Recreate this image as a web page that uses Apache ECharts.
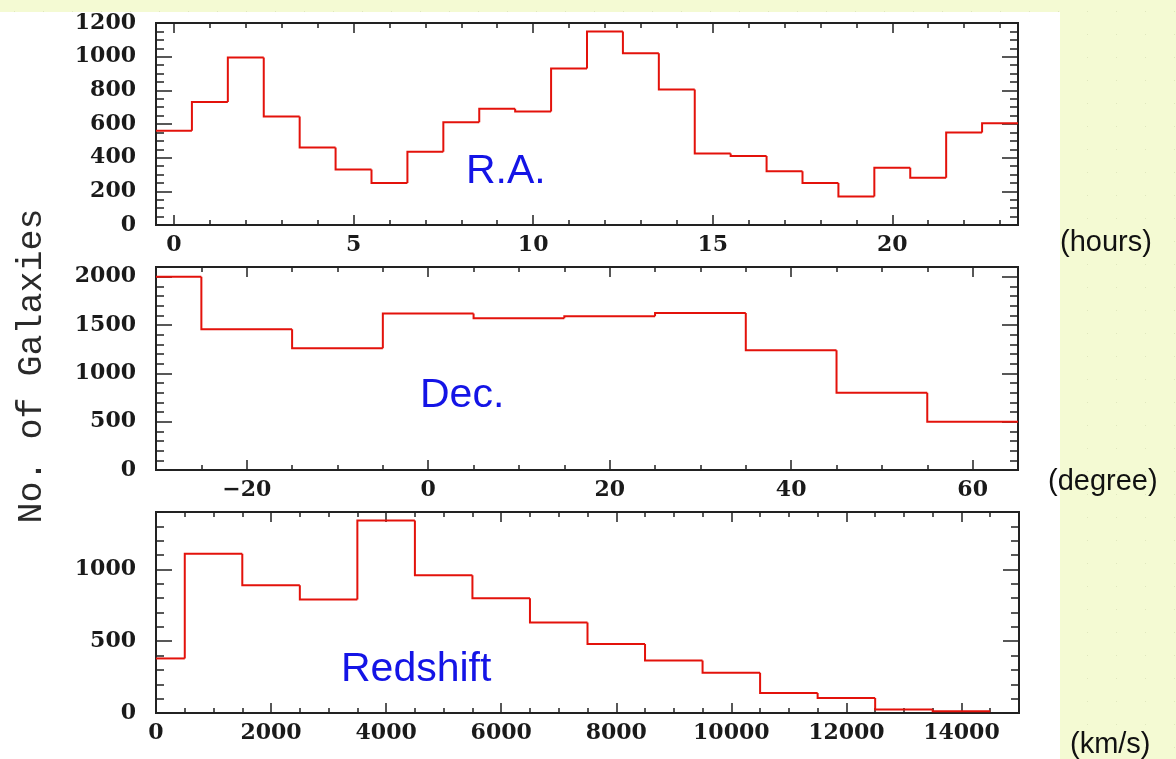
<!DOCTYPE html>
<html><head><meta charset="utf-8">
<script src="https://cdn.jsdelivr.net/npm/echarts@6/dist/echarts.min.js"></script>
<style>
html,body{margin:0;padding:0;}
body{background-color:#f4fad3;background-image:radial-gradient(circle, #dfe6bd 0.7px, rgba(0,0,0,0) 1px);background-size:29px 23px;}
#c{width:1176px;height:759px;}
</style>
</head><body><div id="c"></div>
<script>
// ---- Data ----
const raEdges  = [-0.5,0.5,1.5,2.5,3.5,4.5,5.5,6.5,7.5,8.5,9.5,10.5,11.5,12.5,13.5,14.5,15.5,16.5,17.5,18.5,19.5,20.5,21.5,22.5,23.5];
const raCounts = [560,730,995,645,460,330,250,435,610,690,675,930,1150,1020,805,425,410,320,250,170,340,280,550,605];
const decEdges  = [-30,-25,-15,-5,5,15,25,35,45,55,65];
const decCounts = [2000,1455,1260,1620,1570,1590,1625,1240,800,500];
const zEdges  = [0,500,1500,2500,3500,4500,5500,6500,7500,8500,9500,10500,11500,12500,13500,14500];
const zCounts = [380,1110,890,790,1340,960,800,630,480,365,280,140,105,25,12];

const raXTicks  = [0,5,10,15,20];
const raYTicks  = [0,200,400,600,800,1000,1200];
const decXTicks = [-20,0,20,40,60];
const decYTicks = [0,500,1000,1500,2000];
const zXTicks   = [0,2000,4000,6000,8000,10000,12000,14000];
const zYTicks   = [0,500,1000];

const panelNames = ['R.A.','Dec.','Redshift'];
const unitNames  = ['(hours)','(degree)','(km/s)'];
const yTitle = 'No. of Galaxies';

// ---- helpers ----
function steps(from, to, step){ const a=[]; for(let v=from; v<=to+1e-9; v+=step) a.push(+v.toFixed(6)); return a; }
// one item per bin: [left edge, right edge, count, previous count]
function binItems(edges, counts){
  return counts.map((c,i)=>[edges[i], edges[i+1], c, i>0 ? counts[i-1] : c]);
}
const labelFont = {fontFamily:'DejaVu Serif', fontSize:22, fontWeight:'bold', color:'#1a1a1a'};
const tickColor = '#222';

const panels = [
  {top:23, height:202, right:158, xr:[-0.5,23.5], yr:[0,1200], xt:raXTicks, xm:steps(0,23,1), yt:raYTicks, ym:steps(0,1200,50), edges:raEdges, counts:raCounts},
  {top:267, height:203, right:158, xr:[-30,65], yr:[0,2100], xt:decXTicks, xm:steps(-30,65,5), yt:decYTicks, ym:steps(0,2100,100), edges:decEdges, counts:decCounts},
  {top:512, height:201, right:157, xr:[0,15000], yr:[0,1400], xt:zXTicks, xm:steps(0,15000,500), yt:zYTicks, ym:steps(0,1400,100), edges:zEdges, counts:zCounts}
];

const grids=[], xAxes=[], yAxes=[], series=[];
const fmt = v => (v<0 ? '\u2212'+Math.abs(v) : String(v));

function renderBin(params, api){
  const x0 = api.value(0), x1 = api.value(1), c = api.value(2), pc = api.value(3);
  const pts = [];
  if (params.dataIndex > 0) pts.push(api.coord([x0, pc]));
  pts.push(api.coord([x0, c]));
  pts.push(api.coord([x1, c]));
  return {type:'polyline', shape:{points:pts}, style:{stroke:'#e3120b', lineWidth:2, fill:null}};
}

panels.forEach((p,g)=>{
  grids.push({left:156, right:p.right, top:p.top, height:p.height, show:true, backgroundColor:'#fff', borderColor:'#222', borderWidth:2});
  const mkX = (pos, vals, len, lab) => ({
    type:'value', gridIndex:g, min:p.xr[0], max:p.xr[1], position:pos,
    axisLine:{show:false, onZero:false}, splitLine:{show:false},
    axisTick:{show:true, inside:true, length:len, customValues:vals, lineStyle:{color:tickColor, width:1.5}},
    axisLabel: lab ? Object.assign({show:true, customValues:vals, margin:9, formatter:fmt}, labelFont) : {show:false}
  });
  const mkY = (pos, vals, len, lab) => ({
    type:'value', gridIndex:g, min:p.yr[0], max:p.yr[1], position:pos,
    axisLine:{show:false, onZero:false}, splitLine:{show:false},
    axisTick:{show:true, inside:true, length:len, customValues:vals, lineStyle:{color:tickColor, width:1.5}},
    axisLabel: lab ? Object.assign({show:true, customValues:vals, margin:20, formatter:fmt}, labelFont) : {show:false}
  });
  const xi = xAxes.length, yi = yAxes.length;
  xAxes.push(mkX('bottom', p.xt, 10, true), mkX('bottom', p.xm, 5, false), mkX('top', p.xt, 10, false), mkX('top', p.xm, 5, false));
  yAxes.push(mkY('left', p.yt, 16, true), mkY('left', p.ym, 8, false), mkY('right', p.yt, 16, false), mkY('right', p.ym, 8, false));
  series.push({
    type:'custom', xAxisIndex:xi, yAxisIndex:yi, silent:true, clip:true,
    dimensions:['x0','x1','count','prev'],
    encode:{x:[0,1], y:[2,3]},
    data: binItems(p.edges, p.counts),
    renderItem: renderBin, z:5
  });
});

const textStyleBlue = {fontFamily:'Liberation Sans', fontSize:41, fill:'#1414e6'};
const unitStyle = {fontFamily:'Liberation Sans', fontSize:29, fill:'#111'};
const graphic = [
  {type:'rect', left:0, top:12, shape:{width:1060, height:747}, style:{fill:'#fff'}, z:-10, silent:true},
  {type:'text', x:466, y:172, style:Object.assign({text:panelNames[0], verticalAlign:'middle'}, textStyleBlue), z:10},
  {type:'text', x:420, y:396, style:Object.assign({text:panelNames[1], verticalAlign:'middle'}, textStyleBlue), z:10},
  {type:'text', x:341, y:670, style:Object.assign({text:panelNames[2], verticalAlign:'middle'}, textStyleBlue), z:10},
  {type:'text', x:1060, y:243, style:Object.assign({text:unitNames[0], verticalAlign:'middle'}, unitStyle)},
  {type:'text', x:1048, y:482, style:Object.assign({text:unitNames[1], verticalAlign:'middle'}, unitStyle)},
  {type:'text', x:1070, y:745, style:Object.assign({text:unitNames[2], verticalAlign:'middle'}, unitStyle)},
  {type:'text', x:32, y:366, rotation:Math.PI/2, style:{text:yTitle, align:'center', verticalAlign:'middle', fontFamily:'Liberation Mono', fontSize:35, fill:'#2a2a2a'}}
];

const chart = echarts.init(document.getElementById('c'), null, {renderer:'canvas'});
chart.setOption({
  backgroundColor:'transparent',
  animation:false,
  grid:grids, xAxis:xAxes, yAxis:yAxes, series:series, graphic:graphic
});
</script>
</body></html>
